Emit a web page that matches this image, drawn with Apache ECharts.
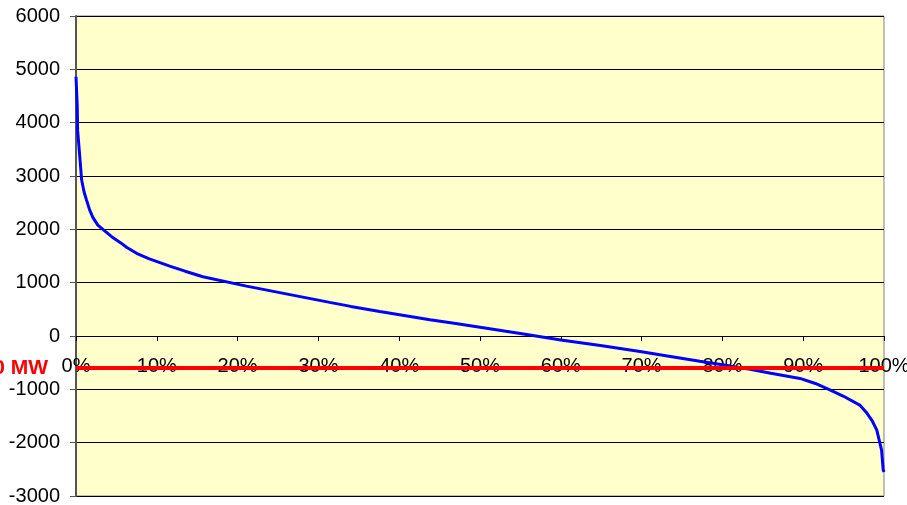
<!DOCTYPE html>
<html>
<head>
<meta charset="utf-8">
<script src="https://cdn.jsdelivr.net/npm/echarts@6/dist/echarts.min.js"></script>
<style>
  html, body { margin: 0; padding: 0; background: #fff; }
  #chart { width: 907px; height: 505px; }
</style>
</head>
<body>
<div id="chart"></div>
<script>
// share of hours (%) and load value (MW)
const pct = [0, 0.15, 0.2, 0.5, 0.7, 1.0, 1.3, 1.7, 2.1, 2.7, 3.4, 4.6, 5.5, 6.3, 7.5, 9, 11.6, 13.5, 15.7, 21.1, 26, 31.4, 34, 37.6, 43.8, 47, 50, 55, 60, 64.9, 69.8, 73, 77.2, 80, 83.4, 86, 89.6, 91.5, 93.3, 95, 97, 97.9, 98.5, 99.1, 99.7, 99.9, 100];
const mw = [4860, 4330, 3860, 3300, 2925, 2700, 2550, 2360, 2220, 2080, 1990, 1840, 1750, 1660, 1550, 1450, 1310, 1215, 1110, 935, 790, 630, 555, 460, 305, 235, 165, 45, -75, -180, -290, -370, -475, -540, -625, -700, -795, -890, -1010, -1130, -1295, -1450, -1580, -1760, -2140, -2510, -2550];
const limitValue = -600;
const limitLabel = "-600 MW";

let myChart = echarts.init(document.getElementById("chart"));
myChart.setOption({
  animation: false,
  grid: {
    left: 76,
    right: 23,
    top: 16,
    bottom: 9,
    outerBoundsMode: "none",
    show: true,
    backgroundColor: "#FFFFCC",
    borderColor: "#808080",
    borderWidth: 1,
  },
  xAxis: {
    type: "value",
    min: 0,
    max: 100,
    interval: 10,
    position: "bottom",
    // move the axis up to the zero line (plot is 480px for 9000 MW)
    offset: -160,
    axisLine: { onZero: false, lineStyle: { color: "#000", width: 1 } },
    axisTick: { show: true, inside: false, length: 5, lineStyle: { color: "#000" } },
    axisLabel: {
      formatter: "{value}%",
      color: "#000",
      fontFamily: "Liberation Sans",
      fontSize: 20,
      margin: 20,
      showMaxLabel: true,
      showMinLabel: true,
    },
    splitLine: { show: false },
  },
  yAxis: {
    type: "value",
    min: -3000,
    max: 6000,
    interval: 1000,
    axisLine: { show: true, lineStyle: { color: "#555", width: 2 } },
    axisTick: { show: true, length: 6, lineStyle: { color: "#555" } },
    axisLabel: {
      color: "#000",
      fontFamily: "Liberation Sans",
      fontSize: 20,
      margin: 16,
      formatter: function (v) {
        return String(v);
      },
    },
    splitLine: { show: true, lineStyle: { color: "#000", width: 1 } },
  },
  series: [
    {
      type: "line",
      data: pct.map((p, i) => [p, mw[i]]),
      showSymbol: false,
      lineStyle: { color: "#0000FF", width: 3 },
      markLine: {
        silent: true,
        symbol: ["none", "none"],
        lineStyle: { color: "#FF0000", width: 4, type: "solid" },
        label: {
          show: true,
          position: "start",
          distance: 28,
          formatter: limitLabel,
          color: "#FF0000",
          fontFamily: "Liberation Sans",
          fontWeight: "bold",
          fontSize: 21,
        },
        data: [{ yAxis: limitValue }],
      },
    },
  ],
});
</script>
</body>
</html>
